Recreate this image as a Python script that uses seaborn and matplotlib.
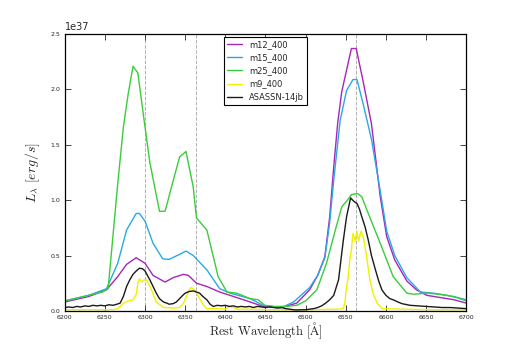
import numpy as np
import pandas as pd
import matplotlib
matplotlib.use("Agg")
import matplotlib.pyplot as plt
import seaborn as sns

# model spectra (units of 1e37 erg/s)
wl_m12 = [6200, 6230, 6252, 6266, 6277, 6289, 6300, 6310, 6325, 6335, 6348, 6354, 6364, 6377,
          6393, 6410, 6431, 6447, 6470, 6489, 6505, 6515, 6524, 6530, 6535, 6540, 6545, 6557,
          6563, 6572, 6582, 6593, 6601, 6611, 6626, 6638, 6651, 6668, 6685, 6700]
m12 = [0.08, 0.13, 0.19, 0.31, 0.42, 0.48, 0.43, 0.32, 0.26, 0.30, 0.33, 0.32, 0.25, 0.22,
       0.17, 0.13, 0.08, 0.04, 0.03, 0.07, 0.19, 0.32, 0.49, 0.85, 1.30, 1.70, 1.98, 2.37,
       2.37, 2.06, 1.69, 1.03, 0.67, 0.46, 0.27, 0.19, 0.14, 0.12, 0.10, 0.07]

wl_m15 = [6200, 6230, 6252, 6266, 6277, 6289, 6293, 6300, 6310, 6322, 6330, 6343, 6351, 6360,
          6377, 6393, 6406, 6431, 6447, 6470, 6485, 6505, 6515, 6524, 6530, 6535, 6543, 6551,
          6559, 6564, 6572, 6582, 6593, 6601, 6611, 6626, 6643, 6659, 6684, 6700]
m15 = [0.09, 0.14, 0.20, 0.43, 0.73, 0.88, 0.88, 0.81, 0.61, 0.47, 0.465, 0.51, 0.54, 0.50,
       0.37, 0.20, 0.16, 0.11, 0.05, 0.03, 0.08, 0.21, 0.32, 0.48, 0.80, 1.18, 1.72, 1.99,
       2.09, 2.09, 1.86, 1.55, 1.08, 0.72, 0.50, 0.30, 0.17, 0.16, 0.13, 0.10]

wl_m25 = [6200, 6247, 6254, 6266, 6273, 6279, 6285, 6291, 6300, 6306, 6312, 6318, 6325, 6333,
          6343, 6351, 6360, 6364, 6377, 6391, 6402, 6414, 6431, 6441, 6449, 6460, 6475, 6489,
          6500, 6514, 6526, 6537, 6545, 6551, 6557, 6565, 6570, 6578, 6593, 6609, 6626, 6634,
          6651, 6666, 6676, 6688, 6700]
m25 = [0.09, 0.17, 0.20, 1.15, 1.66, 1.96, 2.21, 2.15, 1.66, 1.34, 1.12, 0.90, 0.90, 1.12,
       1.39, 1.44, 1.12, 0.84, 0.73, 0.31, 0.17, 0.16, 0.11, 0.10, 0.05, 0.04, 0.04, 0.05,
       0.09, 0.19, 0.43, 0.73, 0.94, 0.99, 1.05, 1.06, 1.03, 0.88, 0.61, 0.31, 0.16, 0.15,
       0.16, 0.15, 0.14, 0.12, 0.09]

wl_m9 = [6200, 6230, 6260, 6266, 6273, 6279, 6285, 6289, 6291, 6293, 6296, 6299, 6302, 6304,
         6308, 6314, 6323, 6335, 6343, 6348, 6352, 6357, 6360, 6362, 6368, 6373, 6377, 6390,
         6400, 6405, 6410, 6415, 6430, 6460, 6500, 6540, 6547, 6549, 6551, 6553, 6555, 6557,
         6559, 6561.5, 6564, 6566, 6569, 6572, 6576, 6580, 6584, 6589, 6595, 6620, 6660, 6700]
m9 = [0.01, 0.01, 0.01, 0.02, 0.07, 0.09, 0.10, 0.15, 0.25, 0.29, 0.26, 0.28, 0.28, 0.25,
      0.19, 0.08, 0.03, 0.025, 0.03, 0.07, 0.14, 0.21, 0.20, 0.19, 0.11, 0.05, 0.02, 0.02,
      0.015, 0.04, 0.03, 0.015, 0.015, 0.01, 0.01, 0.015, 0.02, 0.08, 0.22, 0.30, 0.46, 0.55,
      0.70, 0.63, 0.72, 0.63, 0.72, 0.66, 0.49, 0.28, 0.16, 0.07, 0.02, 0.015, 0.01, 0.01]

# observed spectrum
wl_obs = [6200, 6205, 6210, 6215, 6220, 6225, 6230, 6235, 6240, 6245, 6250, 6255, 6260, 6265,
          6269, 6273, 6277, 6281, 6285, 6289, 6293, 6297, 6300, 6303, 6306, 6310, 6314, 6318,
          6323, 6327, 6330, 6335, 6339, 6343, 6347, 6350, 6355, 6360, 6364, 6368, 6372, 6377,
          6381, 6385, 6390, 6395, 6400, 6405, 6410, 6415, 6420, 6425, 6430, 6435, 6440, 6445,
          6450, 6455, 6460, 6465, 6470, 6475, 6480, 6485, 6490, 6495, 6500, 6505, 6510, 6515,
          6520, 6525, 6530, 6535, 6541, 6547, 6551, 6556, 6560, 6564, 6567, 6570, 6574, 6578,
          6582, 6587, 6591, 6595, 6600, 6605, 6609, 6615, 6620, 6630, 6640, 6650, 6660, 6670,
          6680, 6690, 6700]
obs = [0.030, 0.035, 0.030, 0.040, 0.035, 0.045, 0.040, 0.050, 0.045, 0.050, 0.045, 0.055,
       0.050, 0.060, 0.070, 0.130, 0.220, 0.280, 0.330, 0.360, 0.385, 0.380, 0.360, 0.320,
       0.280, 0.220, 0.160, 0.110, 0.080, 0.070, 0.060, 0.065, 0.080, 0.110, 0.140, 0.160,
       0.175, 0.180, 0.170, 0.160, 0.130, 0.100, 0.060, 0.040, 0.050, 0.045, 0.050, 0.040,
       0.045, 0.035, 0.040, 0.035, 0.040, 0.030, 0.040, 0.035, 0.030, 0.035, 0.030, 0.025,
       0.030, 0.020, 0.015, 0.010, 0.008, 0.010, 0.010, 0.015, 0.020, 0.030, 0.045, 0.070,
       0.100, 0.140, 0.280, 0.640, 0.850, 1.020, 0.990, 0.970, 0.920, 0.850, 0.760, 0.640,
       0.500, 0.370, 0.270, 0.190, 0.140, 0.110, 0.100, 0.080, 0.065, 0.050, 0.045, 0.040,
       0.035, 0.030, 0.030, 0.025, 0.020]

lines_wl = [6300, 6363, 6563]

series = [("m12_400", wl_m12, m12, "#a626b8"),
          ("m15_400", wl_m15, m15, "#2aa8e6"),
          ("m25_400", wl_m25, m25, "#3acc3a"),
          ("m9_400", wl_m9, m9, "#f2f000"),
          ("ASASSN-14jb", wl_obs, obs, "#1a1a1a")]

sns.set_style("white", {"xtick.direction": "in", "ytick.direction": "in",
                        "axes.edgecolor": "black"})
plt.rcParams["mathtext.fontset"] = "cm"

fig = plt.figure(figsize=(5.18, 3.45), dpi=100)
ax = fig.add_axes([0.125, 0.099, 0.775, 0.802])

for x in lines_wl:
    ax.axvline(x, color="#b0b0b0", ls="--", lw=0.7, zorder=0)

for name, wl, vals, col in series:
    df = pd.DataFrame({"wl": wl, "L": np.array(vals) * 1e37})
    sns.lineplot(data=df, x="wl", y="L", color=col, lw=1.0, label=name,
                 estimator=None, sort=False, ax=ax)

ax.set_xlim(6200, 6700)
ax.set_ylim(0, 2.5e37)
ax.set_xticks(np.arange(6200, 6701, 50))
ax.set_yticks(np.arange(0, 2.51e37, 0.5e37))
ax.tick_params(top=True, right=True, labelsize=4.5, length=4, width=0.6,
               direction="in", pad=3, bottom=True, left=True)
ax.yaxis.get_offset_text().set_fontsize(7)
for s in ax.spines.values():
    s.set_linewidth(0.9)
    s.set_color("black")

ax.set_xlabel(r"$\mathrm{Rest\ Wavelength\ [\AA]}$", fontsize=9, labelpad=0)
ax.set_ylabel(r"$L_\lambda\ [erg/s]$", fontsize=10, labelpad=6)

leg = ax.legend(loc="upper center", fontsize=6, fancybox=False, framealpha=1,
                edgecolor="black", borderaxespad=0.3, handlelength=1.8)
leg.get_frame().set_linewidth(0.8)

fig.savefig("out.png", dpi=100)
